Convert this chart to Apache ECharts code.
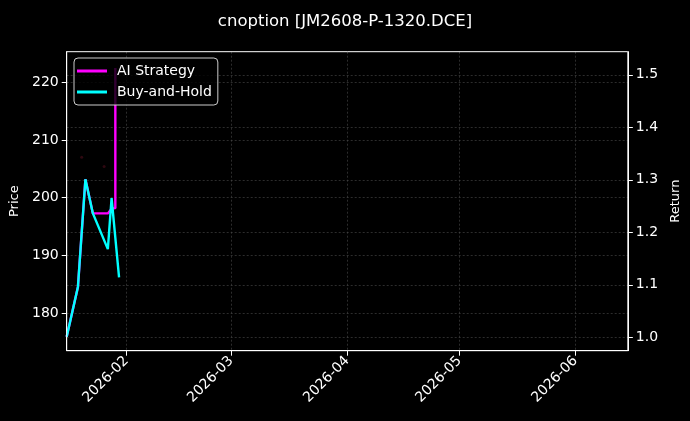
<!DOCTYPE html>
<html>
<head>
<meta charset="utf-8">
<script src="https://cdn.jsdelivr.net/npm/echarts@6/dist/echarts.min.js"></script>
<style>
html,body{margin:0;padding:0;background:#000;}
#chart{width:690px;height:421px;}
</style>
</head>
<body>
<div id="chart"></div>
<script>
// ---- data ----
const titleText = "cnoption [JM2608-P-1320.DCE]";
const bhDates = ["2026-01-16","2026-01-19","2026-01-21","2026-01-23","2026-01-27","2026-01-28","2026-01-30"];
const bhReturn = [1.001, 1.096, 1.301, 1.236, 1.168, 1.265, 1.114];
const aiDates = ["2026-01-16","2026-01-19","2026-01-21","2026-01-23","2026-01-27","2026-01-28","2026-01-29","2026-01-29"];
const aiReturn = [1.001, 1.096, 1.301, 1.236, 1.236, 1.245, 1.246, 1.513];
const markDates = ["2026-01-20","2026-01-26"];
const markPrice = [207.0, 205.4];
const xMin = "2026-01-16", xMax = "2026-06-15";
const priceMin = 173.5, priceMax = 225.3;
const retMin = 0.9745, retMax = 1.544;

const zip = (a,b) => a.map((d,i)=>[d,b[i]]);
const FONT = "DejaVu Sans";
const chart = echarts.init(document.getElementById('chart'));
const gridLine = {show:true, showMinLine:false, showMaxLine:false, lineStyle:{color:'#4a4a4a', type:[2,2], width:0.6}};
chart.setOption({
  backgroundColor:'#000',
  animation:false,
  textStyle:{fontFamily:FONT},
  title:{text:titleText, left:'center', top:8, textStyle:{color:'#fff', fontSize:16.5, fontWeight:'normal', fontFamily:FONT}},
  grid:{left:66.7, right:61.7, top:51.7, bottom:70.3, show:true, borderColor:'#fff', borderWidth:1, backgroundColor:'transparent', z:5},
  legend:{
    left:74, top:58, orient:'vertical', itemWidth:30, itemHeight:3, itemGap:7,
    padding:[6,6,6,3],
    backgroundColor:'rgba(0,0,0,0.8)', borderColor:'#cccccc', borderWidth:1, borderRadius:4,
    textStyle:{color:'#fff', fontSize:14, fontFamily:FONT, padding:[0,0,0,5]},
    data:[{name:'AI Strategy', icon:'rect'},{name:'Buy-and-Hold', icon:'rect'}]
  },
  xAxis:{
    type:'time', min:xMin, max:xMax, splitNumber:5,
    axisLine:{show:true, lineStyle:{color:'#fff'}},
    axisTick:{show:true, length:5, lineStyle:{color:'#fff'}},
    axisLabel:{color:'#fff', fontSize:14, rotate:45, margin:8, showMinLabel:false, showMaxLabel:false,
      formatter:function(v){const d=new Date(v);return d.getFullYear()+'-'+String(d.getMonth()+1).padStart(2,'0');}},
    splitLine:gridLine
  },
  yAxis:[
    {type:'value', name:'Price', nameLocation:'middle', nameGap:40, nameRotate:90,
     nameTextStyle:{color:'#fff', fontSize:13},
     min:priceMin, max:priceMax, splitNumber:5, position:'left',
     axisLine:{show:true, lineStyle:{color:'#fff'}},
     axisTick:{show:true, length:5, lineStyle:{color:'#fff'}},
     axisLabel:{color:'#fff', fontSize:14, showMinLabel:false, showMaxLabel:false, margin:8},
     splitLine:gridLine},
    {type:'value', name:'Return', nameLocation:'middle', nameGap:36, nameRotate:90,
     nameTextStyle:{color:'#fff', fontSize:13},
     min:retMin, max:retMax, splitNumber:5, position:'right',
     axisLine:{show:true, lineStyle:{color:'#fff'}},
     axisTick:{show:true, length:5, lineStyle:{color:'#fff'}},
     axisLabel:{color:'#fff', fontSize:14, showMinLabel:false, showMaxLabel:false, margin:8,
       formatter:function(v){return v.toFixed(1);}},
     splitLine:gridLine}
  ],
  series:[
    {name:'Signals', type:'scatter', yAxisIndex:0, data:zip(markDates, markPrice), symbolSize:3,
     itemStyle:{color:'#3a0a14'}, silent:true, z:1},
    {name:'AI Strategy', type:'line', yAxisIndex:1, data:zip(aiDates, aiReturn), showSymbol:false,
     lineStyle:{color:'#ff00ff', width:2.4}, itemStyle:{color:'#ff00ff'}, z:2},
    {name:'Buy-and-Hold', type:'line', yAxisIndex:1, data:zip(bhDates, bhReturn), showSymbol:false,
     lineStyle:{color:'#00ffff', width:2.4}, itemStyle:{color:'#00ffff'}, z:3}
  ]
});
</script>
</body>
</html>
